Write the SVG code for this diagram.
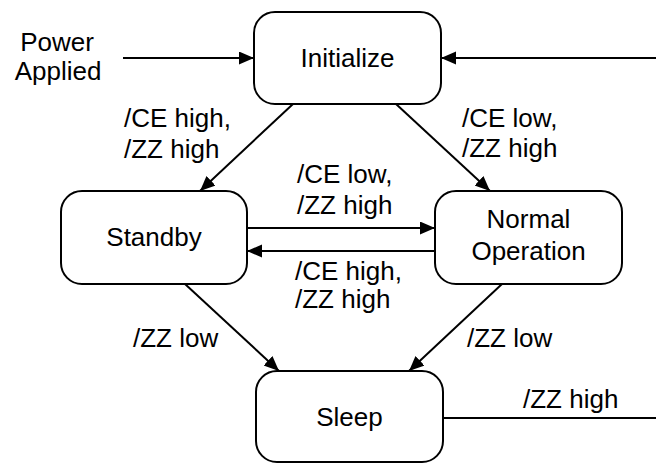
<svg xmlns="http://www.w3.org/2000/svg" width="656" height="464" viewBox="0 0 656 464">
<style>
.box{fill:#fff;stroke:#000;stroke-width:2}
.c{fill:none;stroke:#000;stroke-width:2}
text{font-family:"Liberation Sans",Arial,sans-serif;font-size:26px;fill:#000}
.m{text-anchor:middle}
</style>
<defs>
<marker id="ah" markerUnits="userSpaceOnUse" markerWidth="15" markerHeight="14" refX="15" refY="6.5" orient="auto">
<path d="M0,0 L15,6.5 L0,13 z" fill="#000"/>
</marker>
</defs>
<rect width="656" height="464" fill="#fff"/>
<g id="connectors">
<line class="c" x1="123" y1="58" x2="254" y2="58" marker-end="url(#ah)"/>
<line class="c" x1="656" y1="58" x2="441" y2="58" marker-end="url(#ah)"/>
<line class="c" x1="293" y1="104" x2="200" y2="191" marker-end="url(#ah)"/>
<line class="c" x1="396" y1="104" x2="490" y2="191" marker-end="url(#ah)"/>
<line class="c" x1="247" y1="228" x2="435" y2="228" marker-end="url(#ah)"/>
<line class="c" x1="435" y1="251" x2="247" y2="251" marker-end="url(#ah)"/>
<line class="c" x1="185" y1="284" x2="279" y2="371" marker-end="url(#ah)"/>
<line class="c" x1="502" y1="284" x2="409" y2="371" marker-end="url(#ah)"/>
<line class="c" x1="443" y1="418" x2="656" y2="418"/>
<text x="57" y="51" class="m">Power</text>
<text x="58" y="80" class="m">Applied</text>
<text x="124" y="127">/CE high,</text>
<text x="124" y="158">/ZZ high</text>
<text x="462" y="127">/CE low,</text>
<text x="462" y="157">/ZZ high</text>
<text x="297" y="183">/CE low,</text>
<text x="297" y="214">/ZZ high</text>
<text x="295" y="280">/CE high,</text>
<text x="295" y="308">/ZZ high</text>
<text x="133" y="347">/ZZ low</text>
<text x="467" y="347">/ZZ low</text>
<text x="523" y="408">/ZZ high</text>
</g>
<g id="initialize">
<rect class="box" x="254" y="12" width="187" height="92" rx="21"/>
<text x="347.5" y="67" class="m">Initialize</text>
</g>
<g id="standby">
<rect class="box" x="61" y="191" width="186" height="93" rx="21"/>
<text x="154" y="246" class="m">Standby</text>
</g>
<g id="normal">
<rect class="box" x="435" y="191" width="187" height="93" rx="21"/>
<text x="528.5" y="228" class="m">Normal</text>
<text x="528.5" y="260" class="m">Operation</text>
</g>
<g id="sleep">
<rect class="box" x="256" y="371" width="187" height="91" rx="21"/>
<text x="349.5" y="426" class="m">Sleep</text>
</g>
</svg>
